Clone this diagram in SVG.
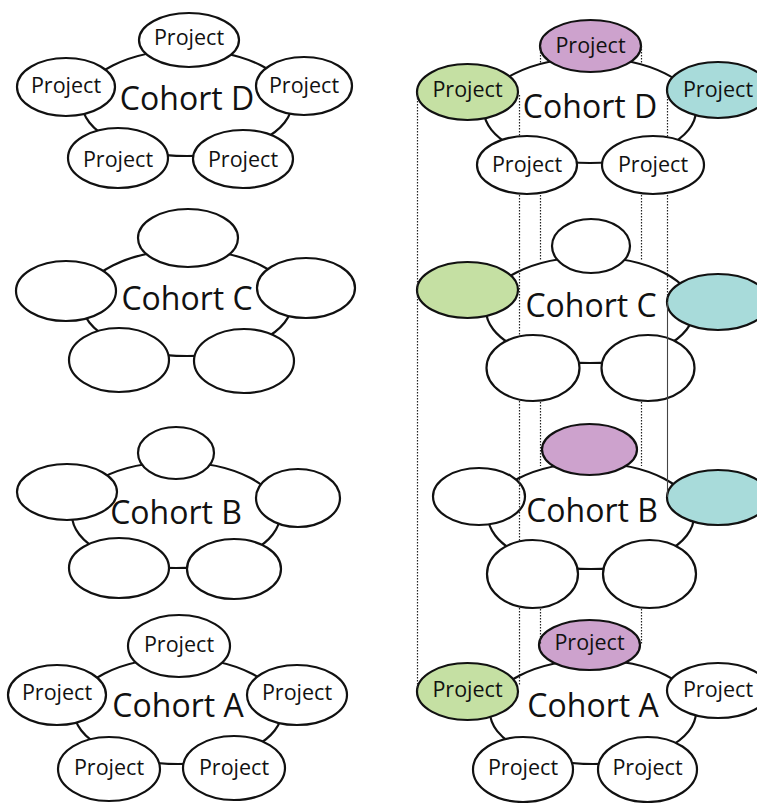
<svg xmlns="http://www.w3.org/2000/svg" width="757" height="803" viewBox="0 0 757 803">
<style>
.e{fill:#fff;stroke:#111;stroke-width:2.2}
.big{fill:#fff;stroke:#111;stroke-width:2.2}
.g{fill:#c5e0a3}
.p{fill:#cda2cd}
.t{fill:#a8dbda}
.pt{font-family:"Open Sans","Noto Sans",sans-serif;font-size:21.5px;fill:#111;text-anchor:middle}
.ct{font-family:"Open Sans","Noto Sans",sans-serif;font-size:32px;fill:#111;text-anchor:middle}
.dot{stroke:#222;stroke-width:1.2;stroke-dasharray:1.5 1.5;fill:none}
.sol{stroke:#444;stroke-width:1.1;fill:none}
</style>
<rect width="757" height="803" fill="#fff"/>

<!-- LEFT COLUMN -->
<g id="cohortD-left"><ellipse class="big" cx="187" cy="103" rx="105" ry="53"/><text class="ct" x="187" y="110">Cohort D</text></g>
<g id="LD1"><ellipse class="e" cx="189" cy="40" rx="50" ry="27"/><text class="pt" x="189" y="45">Project</text></g>
<g id="LD2"><ellipse class="e" cx="66" cy="87" rx="49" ry="29"/><text class="pt" x="66" y="93">Project</text></g>
<g id="LD3"><ellipse class="e" cx="304" cy="86" rx="48" ry="29"/><text class="pt" x="304" y="93">Project</text></g>
<g id="LD4"><ellipse class="e" cx="118" cy="158" rx="50" ry="30"/><text class="pt" x="118" y="167">Project</text></g>
<g id="LD5"><ellipse class="e" cx="243" cy="159" rx="50" ry="29"/><text class="pt" x="243" y="167">Project</text></g>

<g id="cohortC-left"><ellipse class="big" cx="187" cy="303" rx="105" ry="53"/><text class="ct" x="187" y="310">Cohort C</text></g>
<g id="LC1"><ellipse class="e" cx="188" cy="238" rx="50" ry="29"/></g>
<g id="LC2"><ellipse class="e" cx="66" cy="291" rx="50" ry="30"/></g>
<g id="LC3"><ellipse class="e" cx="306" cy="288" rx="49" ry="30"/></g>
<g id="LC4"><ellipse class="e" cx="119" cy="360" rx="50" ry="32"/></g>
<g id="LC5"><ellipse class="e" cx="244" cy="361" rx="50" ry="32"/></g>

<g id="cohortB-left"><ellipse class="big" cx="176" cy="515" rx="104" ry="53"/><text class="ct" x="176" y="524">Cohort B</text></g>
<g id="LB1"><ellipse class="e" cx="176" cy="453" rx="38" ry="26"/></g>
<g id="LB2"><ellipse class="e" cx="67" cy="492" rx="50" ry="28"/></g>
<g id="LB3"><ellipse class="e" cx="298" cy="498" rx="42" ry="29"/></g>
<g id="LB4"><ellipse class="e" cx="119" cy="568" rx="50" ry="30"/></g>
<g id="LB5"><ellipse class="e" cx="234" cy="569" rx="47" ry="30"/></g>

<g id="cohortA-left"><ellipse class="big" cx="178" cy="711" rx="104" ry="53"/><text class="ct" x="178" y="717">Cohort A</text></g>
<g id="LA1"><ellipse class="e" cx="179" cy="646" rx="51" ry="31"/><text class="pt" x="179" y="652">Project</text></g>
<g id="LA2"><ellipse class="e" cx="57" cy="695" rx="49" ry="30"/><text class="pt" x="57" y="700">Project</text></g>
<g id="LA3"><ellipse class="e" cx="297" cy="695" rx="50" ry="30"/><text class="pt" x="297" y="700">Project</text></g>
<g id="LA4"><ellipse class="e" cx="109" cy="769" rx="51" ry="32"/><text class="pt" x="109" y="775">Project</text></g>
<g id="LA5"><ellipse class="e" cx="234" cy="768" rx="51" ry="32"/><text class="pt" x="234" y="775">Project</text></g>

<!-- RIGHT COLUMN -->
<g id="cohortD-right"><ellipse class="big" cx="590" cy="110.5" rx="106" ry="52.5"/><text class="ct" x="590" y="118">Cohort D</text></g>
<g id="RD1"><ellipse class="e p" cx="590.5" cy="46" rx="50.5" ry="26"/><text class="pt" x="590.5" y="53">Project</text></g>
<g id="RD2"><ellipse class="e g" cx="467.5" cy="92" rx="50.5" ry="28"/><text class="pt" x="467.5" y="97">Project</text></g>
<g id="RD3"><ellipse class="e t" cx="718" cy="90" rx="51" ry="28"/><text class="pt" x="718" y="97">Project</text></g>
<g id="RD4"><ellipse class="e" cx="527" cy="165" rx="50" ry="29"/><text class="pt" x="527" y="172">Project</text></g>
<g id="RD5"><ellipse class="e" cx="653" cy="165" rx="51" ry="29"/><text class="pt" x="653" y="172">Project</text></g>

<g id="cohortC-right"><ellipse class="big" cx="590" cy="310" rx="104" ry="53"/><text class="ct" x="591" y="317">Cohort C</text></g>
<g id="RC1"><ellipse class="e" cx="591" cy="246" rx="39" ry="27"/></g>
<g id="RC2"><ellipse class="e g" cx="467.5" cy="290" rx="50.5" ry="28"/></g>
<g id="RC3"><ellipse class="e t" cx="718" cy="302" rx="51" ry="28"/></g>
<g id="RC4"><ellipse class="e" cx="533" cy="368" rx="46.5" ry="33"/></g>
<g id="RC5"><ellipse class="e" cx="648" cy="368" rx="46.5" ry="33"/></g>

<g id="cohortB-right"><ellipse class="big" cx="591" cy="516" rx="103" ry="53"/><text class="ct" x="592" y="522">Cohort B</text></g>
<g id="RB1"><ellipse class="e p" cx="589.5" cy="449.5" rx="47.5" ry="25.5"/></g>
<g id="RB2"><ellipse class="e" cx="479" cy="496.5" rx="46" ry="28.5"/></g>
<g id="RB3"><ellipse class="e t" cx="718" cy="497.5" rx="51" ry="27.5"/></g>
<g id="RB4"><ellipse class="e" cx="532.5" cy="574" rx="45.5" ry="34"/></g>
<g id="RB5"><ellipse class="e" cx="649.5" cy="574" rx="46.5" ry="34"/></g>

<g id="cohortA-right"><ellipse class="big" cx="593" cy="712" rx="103" ry="52"/><text class="ct" x="593" y="717">Cohort A</text></g>
<g id="RA1"><ellipse class="e p" cx="589.5" cy="645" rx="50.5" ry="25"/><text class="pt" x="589.5" y="650">Project</text></g>
<g id="RA2"><ellipse class="e g" cx="467.5" cy="691.5" rx="50.5" ry="28.5"/><text class="pt" x="467.5" y="697">Project</text></g>
<g id="RA3"><ellipse class="e" cx="718" cy="690.5" rx="51" ry="27.5"/><text class="pt" x="718" y="697">Project</text></g>
<g id="RA4"><ellipse class="e" cx="523" cy="769.5" rx="50" ry="32.5"/><text class="pt" x="523" y="775">Project</text></g>
<g id="RA5"><ellipse class="e" cx="647.5" cy="769.5" rx="49.5" ry="32.5"/><text class="pt" x="647.5" y="775">Project</text></g>

<!-- CONNECTORS -->
<g id="connectors">
<path class="dot" d="M417.5 92V691"/>
<path class="dot" d="M519.5 95V136M519.5 195V336M519.5 401V541M519.5 608V686"/>
<path class="dot" d="M540.5 46V63M540.5 195V260M540.5 402V466M540.5 609V645"/>
<path class="dot" d="M641.5 46V63M641.5 195V260M641.5 402V466M641.5 609V645"/>
<path class="dot" d="M667.5 90V137M667.5 195V302"/>
<path class="sol" d="M667.5 302V497"/>
</g>
</svg>
